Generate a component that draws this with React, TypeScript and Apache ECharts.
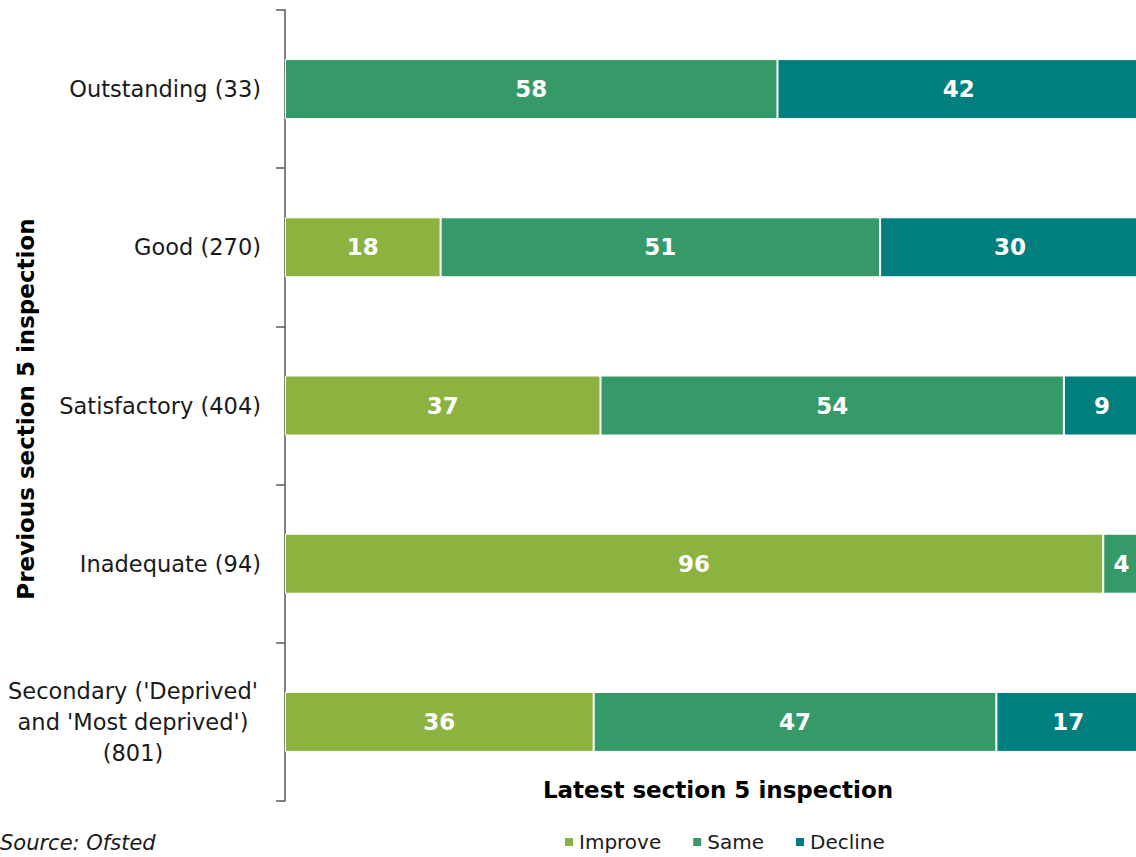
import React, { useEffect, useRef } from "react";
import * as echarts from "echarts";

const categories = [
  "Outstanding (33)",
  "Good (270)",
  "Satisfactory (404)",
  "Inadequate (94)",
  "Secondary ('Deprived'\nand 'Most deprived')\n(801)",
];
const improve = [null, 18.2, 36.9, 95.7, 36.1];
const same = [57.6, 51.4, 54.2, 4.3, 47.1];
const decline = [42.4, 30.4, 8.9, null, 16.8];
const seriesNames = ["Improve", "Same", "Decline"];
const colors = ["#8cb23f", "#359a68", "#007f7e"];

const FONT = "DejaVu Sans";

export default function App() {
  const ref = useRef<HTMLDivElement>(null);
  useEffect(() => {
    const chart = echarts.init(ref.current!, null, { renderer: "svg" });
    const data = [improve, same, decline];
    chart.setOption({
      animation: false,
      textStyle: { fontFamily: FONT },
      grid: {
        left: 285,
        top: 10,
        width: 855,
        height: 791,
        containLabel: false,
        outerBoundsMode: "none",
      },
      xAxis: {
        type: "value",
        min: 0,
        max: 100,
        show: false,
      },
      yAxis: {
        type: "category",
        inverse: true,
        data: categories,
        axisLine: { show: true, lineStyle: { color: "#595959", width: 1.5 } },
        axisTick: { show: true, length: 9, lineStyle: { color: "#595959", width: 1.5 } },
        axisLabel: {
          margin: 24,
          color: "#1a1a1a",
          fontSize: 22.5,
          fontFamily: FONT,
          formatter: (v: string) =>
            v.indexOf("\n") >= 0
              ? v.split("\n").map((l) => `{c|${l}}`).join("\n")
              : v,
          rich: {
            c: { width: 256, align: "center", fontSize: 22.5, color: "#1a1a1a", fontFamily: FONT, lineHeight: 31 },
          },
        },
      },
      legend: {
        top: 827,
        left: 558,
        data: seriesNames,
        icon: "rect",
        itemWidth: 10,
        itemHeight: 10,
        itemGap: 30,
        textStyle: { fontSize: 20, color: "#1a1a1a", fontFamily: FONT },
      },
      graphic: [
        {
          type: "text",
          left: 0,
          top: 832,
          style: { text: "Source: Ofsted", fontSize: 21, fontStyle: "italic", fill: "#1a1a1a", fontFamily: FONT },
        },
        {
          type: "text",
          x: 718,
          y: 790,
          style: {
            text: "Latest section 5 inspection",
            fontSize: 23,
            fontWeight: "bold",
            fill: "#000",
            fontFamily: FONT,
            align: "center",
            verticalAlign: "middle",
          },
        },
        {
          type: "text",
          x: 26,
          y: 409,
          rotation: Math.PI / 2,
          style: {
            text: "Previous section 5 inspection",
            fontSize: 23,
            fontWeight: "bold",
            fill: "#000",
            fontFamily: FONT,
            align: "center",
            verticalAlign: "middle",
          },
        },
      ],
      series: seriesNames.map((name, i) => ({
        name,
        type: "bar",
        stack: "total",
        barWidth: 60,
        data: data[i],
        itemStyle: { color: colors[i], borderColor: "#fff", borderWidth: 1 },
        label: {
          show: true,
          position: "inside",
          color: "#fff",
          fontWeight: "bold",
          fontSize: 23,
          fontFamily: FONT,
          formatter: (p: any) => (p.value == null ? "" : String(Math.round(p.value))),
        },
      })),
    });
    return () => chart.dispose();
  }, []);
  return (
    <div
      ref={ref}
      style={{ position: "fixed", left: 0, top: 0, width: 1136, height: 857, background: "#fff" }}
    />
  );
}
